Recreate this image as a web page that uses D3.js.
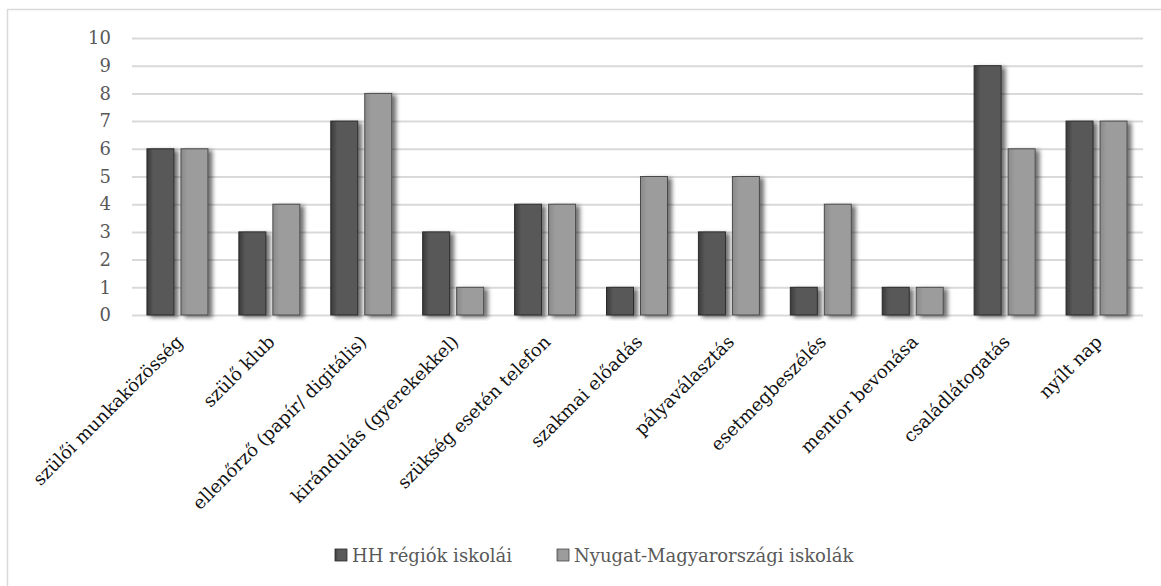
<!DOCTYPE html>
<html>
<head>
<meta charset="utf-8">
<script src="https://cdn.jsdelivr.net/npm/d3@7"></script>
<style>
  body { margin: 0; background: #fff; }
  svg text { font-family: "DejaVu Serif", "Liberation Serif", "Noto Serif", serif !important; }
</style>
</head>
<body>
<svg id="chart" width="1161" height="586"></svg>
<script>
var categories = ["szülői munkaközösség", "szülő klub", "ellenőrző (papír/ digitális)",
  "kirándulás (gyerekekkel)", "szükség esetén telefon", "szakmai előadás",
  "pályaválasztás", "esetmegbeszélés", "mentor bevonása", "családlátogatás", "nyílt nap"];
var hhValues = [6, 3, 7, 3, 4, 1, 3, 1, 1, 9, 7];
var nyValues = [6, 4, 8, 1, 4, 5, 5, 4, 1, 6, 7];
var seriesNames = ["HH régiók iskolái", "Nyugat-Magyarországi iskolák"];
var yTicks = [0, 1, 2, 3, 4, 5, 6, 7, 8, 9, 10];

var svg = d3.select("#chart"),
    margin = {top: 38, left: 132, right: 18},
    width = 1143 - margin.left,
    height = 315 - margin.top;

var defs = svg.append("defs");
var shadow = defs.append("filter").attr("id", "shadow")
    .attr("x", "-20%").attr("y", "-10%").attr("width", "160%").attr("height", "130%");
shadow.append("feDropShadow").attr("dx", 4).attr("dy", 2).attr("stdDeviation", 2.2)
    .attr("flood-color", "#000").attr("flood-opacity", 0.55);

function gradient(id, c1, c2) {
  var gr = defs.append("linearGradient").attr("id", id)
      .attr("x1", "0").attr("x2", "1").attr("y1", "0").attr("y2", "0");
  gr.append("stop").attr("offset", "0%").attr("stop-color", c1);
  gr.append("stop").attr("offset", "25%").attr("stop-color", c2);
  gr.append("stop").attr("offset", "100%").attr("stop-color", c2);
}
gradient("gDark", "#3a3a3a", "#595959");
gradient("gLight", "#8a8a8a", "#9c9c9c");

// outer border
svg.append("rect").attr("x", 7.5).attr("y", 9.5).attr("width", 1200).attr("height", 700)
    .attr("fill", "none").attr("stroke", "#d9d9d9").attr("stroke-width", 1.5);

var g = svg.append("g").attr("transform", "translate(" + margin.left + "," + margin.top + ")");

var x = d3.scaleBand().domain(categories).range([0, width]);
var y = d3.scaleLinear().domain([0, 10]).range([height, 0]);

// gridlines
g.append("g")
    .call(d3.axisLeft(y).tickValues(yTicks).tickSize(-width).tickFormat(""))
    .call(function(s) {
      s.select(".domain").remove();
      s.selectAll(".tick line").attr("stroke", "#d9d9d9").attr("stroke-width", 2);
    });

// y labels
g.append("g")
    .call(d3.axisLeft(y).tickValues(yTicks).tickSize(0).tickPadding(21))
    .call(function(s) {
      s.select(".domain").remove();
      s.attr("font-family", null).attr("font-size", null);
      s.selectAll("text").attr("fill", "#595959").style("font-size", "18px");
    });

var barW = 27;
var series = [
  {values: hhValues, fill: "url(#gDark)", stroke: "#2b2b2b", off: -31},
  {values: nyValues, fill: "url(#gLight)", stroke: "#4a4a4a", off: 3}
];

series.forEach(function(s) {
  g.append("g").selectAll("rect")
    .data(categories)
    .enter().append("rect")
      .attr("x", function(d) { return x(d) + x.bandwidth() / 2 + s.off; })
      .attr("y", function(d, i) { return y(s.values[i]); })
      .attr("width", barW)
      .attr("height", function(d, i) { return height - y(s.values[i]); })
      .attr("fill", s.fill)
      .attr("stroke", s.stroke)
      .attr("stroke-width", 1)
      .attr("filter", "url(#shadow)");
});

// category labels
g.append("g").selectAll("text")
  .data(categories)
  .enter().append("text")
    .attr("transform", function(d) {
      return "translate(" + (x(d) + x.bandwidth() / 2 + 6) + "," + (height + 28) + ") rotate(-45)";
    })
    .attr("text-anchor", "end")
    .attr("fill", "#111")
    .style("font-size", "18px")
    .text(function(d) { return d; });

// legend
var legend = svg.append("g").attr("transform", "translate(335,562)");
var legendX = [0, 222];
var legendFill = ["url(#gDark)", "url(#gLight)"];
var legendStroke = ["#2b2b2b", "#4a4a4a"];
seriesNames.forEach(function(name, i) {
  legend.append("rect").attr("x", legendX[i]).attr("y", -13).attr("width", 12).attr("height", 12)
      .attr("fill", legendFill[i]).attr("stroke", legendStroke[i]).attr("stroke-width", 0.8);
  legend.append("text").attr("x", legendX[i] + 17).attr("y", 0)
      .attr("fill", "#595959").style("font-size", "18px").text(name);
});
</script>
</body>
</html>
